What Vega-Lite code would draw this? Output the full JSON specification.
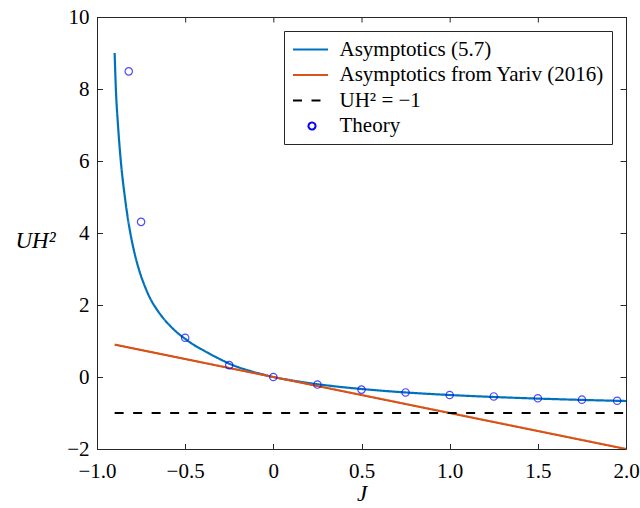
{
  "$schema": "https://vega.github.io/schema/vega-lite/v6.json",
  "width": 529,
  "height": 432,
  "autosize": "none",
  "padding": {"left": 97, "top": 17, "right": 14, "bottom": 59},
  "background": "white",
  "config": {
    "font": "'Liberation Serif', 'Times New Roman', serif",
    "view": {"stroke": null},
    "axis": {
      "grid": false,
      "domainColor": "#262626",
      "tickColor": "#262626",
      "domainWidth": 1,
      "tickWidth": 1,
      "tickSize": -5.5,
      "labelFlush": false
    }
  },
  "datasets": {
    "xticks": [{"t": -0.5}, {"t": 0}, {"t": 0.5}, {"t": 1}, {"t": 1.5}],
    "yticks": [{"t": 0}, {"t": 2}, {"t": 4}, {"t": 6}, {"t": 8}]
  },
  "data": {
    "values": [
      {"series": "Asymptotics (5.7)", "J": -0.9, "U": 9.0},
      {"series": "Asymptotics (5.7)", "J": -0.893, "U": 8.0},
      {"series": "Asymptotics (5.7)", "J": -0.881, "U": 7.0},
      {"series": "Asymptotics (5.7)", "J": -0.865, "U": 6.0},
      {"series": "Asymptotics (5.7)", "J": -0.842, "U": 5.0},
      {"series": "Asymptotics (5.7)", "J": -0.828, "U": 4.5},
      {"series": "Asymptotics (5.7)", "J": -0.811, "U": 4.0},
      {"series": "Asymptotics (5.7)", "J": -0.79, "U": 3.5},
      {"series": "Asymptotics (5.7)", "J": -0.763, "U": 3.0},
      {"series": "Asymptotics (5.7)", "J": -0.727, "U": 2.5},
      {"series": "Asymptotics (5.7)", "J": -0.696, "U": 2.16},
      {"series": "Asymptotics (5.7)", "J": -0.664, "U": 1.9},
      {"series": "Asymptotics (5.7)", "J": -0.638, "U": 1.72},
      {"series": "Asymptotics (5.7)", "J": -0.61, "U": 1.55},
      {"series": "Asymptotics (5.7)", "J": -0.585, "U": 1.42},
      {"series": "Asymptotics (5.7)", "J": -0.549, "U": 1.25},
      {"series": "Asymptotics (5.7)", "J": -0.5, "U": 1.06},
      {"series": "Asymptotics (5.7)", "J": -0.45, "U": 0.89},
      {"series": "Asymptotics (5.7)", "J": -0.4, "U": 0.75},
      {"series": "Asymptotics (5.7)", "J": -0.35, "U": 0.615},
      {"series": "Asymptotics (5.7)", "J": -0.3, "U": 0.49},
      {"series": "Asymptotics (5.7)", "J": -0.25, "U": 0.37},
      {"series": "Asymptotics (5.7)", "J": -0.2, "U": 0.275},
      {"series": "Asymptotics (5.7)", "J": -0.132, "U": 0.17},
      {"series": "Asymptotics (5.7)", "J": -0.07, "U": 0.085},
      {"series": "Asymptotics (5.7)", "J": 0, "U": 0},
      {"series": "Asymptotics (5.7)", "J": 0.1, "U": -0.09},
      {"series": "Asymptotics (5.7)", "J": 0.2, "U": -0.167},
      {"series": "Asymptotics (5.7)", "J": 0.3, "U": -0.231},
      {"series": "Asymptotics (5.7)", "J": 0.4, "U": -0.286},
      {"series": "Asymptotics (5.7)", "J": 0.5, "U": -0.333},
      {"series": "Asymptotics (5.7)", "J": 0.6, "U": -0.375},
      {"series": "Asymptotics (5.7)", "J": 0.75, "U": -0.429},
      {"series": "Asymptotics (5.7)", "J": 0.9, "U": -0.474},
      {"series": "Asymptotics (5.7)", "J": 1.0, "U": -0.5},
      {"series": "Asymptotics (5.7)", "J": 1.2, "U": -0.545},
      {"series": "Asymptotics (5.7)", "J": 1.4, "U": -0.583},
      {"series": "Asymptotics (5.7)", "J": 1.6, "U": -0.615},
      {"series": "Asymptotics (5.7)", "J": 1.8, "U": -0.643},
      {"series": "Asymptotics (5.7)", "J": 2.0, "U": -0.667},
      {"series": "Asymptotics from Yariv (2016)", "J": -0.9, "U": 0.9},
      {"series": "Asymptotics from Yariv (2016)", "J": 2.0, "U": -2.0},
      {"series": "UH² = −1", "J": -0.9, "U": -1},
      {"series": "UH² = −1", "J": 2.0, "U": -1},
      {"series": "Theory", "J": -0.82, "U": 8.49},
      {"series": "Theory", "J": -0.75, "U": 4.31},
      {"series": "Theory", "J": -0.5, "U": 1.09},
      {"series": "Theory", "J": -0.25, "U": 0.33},
      {"series": "Theory", "J": 0, "U": 0},
      {"series": "Theory", "J": 0.25, "U": -0.21},
      {"series": "Theory", "J": 0.5, "U": -0.35},
      {"series": "Theory", "J": 0.75, "U": -0.43},
      {"series": "Theory", "J": 1.0, "U": -0.5},
      {"series": "Theory", "J": 1.25, "U": -0.54},
      {"series": "Theory", "J": 1.5, "U": -0.59},
      {"series": "Theory", "J": 1.75, "U": -0.63},
      {"series": "Theory", "J": 1.95, "U": -0.66}
    ]
  },
  "layer": [
    {
      "transform": [{"filter": "datum.series !== 'Theory'"}],
      "mark": {"type": "line", "strokeWidth": 2.2, "interpolate": "monotone", "clip": true},
      "encoding": {
        "x": {
          "field": "J", "type": "quantitative",
          "scale": {"domain": [-1, 2], "nice": false, "zero": false},
          "axis": {
            "orient": "bottom",
            "values": [-1, -0.5, 0, 0.5, 1, 1.5, 2],
            "labelExpr": "datum.value === 0 ? '0' : format(datum.value, '.1f')",
            "labelFont": "'Liberation Serif', 'Times New Roman', serif",
            "labelFontSize": 21,
            "labelColor": "black",
            "labelFlush": false,
            "labelPadding": 16.5,
            "title": "J",
            "titleFont": "'Liberation Serif', 'Times New Roman', serif",
            "titleFontSize": 23,
            "titleFontStyle": "italic",
            "titleFontWeight": "normal",
            "titleColor": "black",
            "titleY": 44,
            "titleBaseline": "middle"
          }
        },
        "y": {
          "field": "U", "type": "quantitative",
          "scale": {"domain": [-2, 10], "nice": false, "zero": false},
          "axis": {
            "orient": "left",
            "values": [-2, 0, 2, 4, 6, 8, 10],
            "format": "d",
            "labelFont": "'Liberation Serif', 'Times New Roman', serif",
            "labelFontSize": 21,
            "labelColor": "black",
            "labelFlush": false,
            "labelPadding": 13.5,
            "title": "UH²",
            "titleFont": "'Liberation Serif', 'Times New Roman', serif",
            "titleFontSize": 23,
            "titleFontStyle": "italic",
            "titleFontWeight": "normal",
            "titleColor": "black",
            "titleAngle": 0,
            "titleX": -62,
            "titleY": 223,
            "titleAlign": "center",
            "titleBaseline": "middle"
          }
        },
        "color": {
          "field": "series", "type": "nominal",
          "scale": {
            "domain": ["Asymptotics (5.7)", "Asymptotics from Yariv (2016)", "UH² = −1", "Theory"],
            "range": ["#0072BD", "#D95319", "#000000", "#0000FF"]
          },
          "legend": {
            "title": null,
            "orient": "top-right",
            "offset": 14,
            "padding": 8,
            "rowPadding": 3.5,
            "labelFont": "'Liberation Serif', 'Times New Roman', serif",
            "labelFontSize": 21,
            "labelColor": "black",
            "labelLimit": 500,
            "labelOffset": 17,
            "symbolOffset": 9.5,
            "symbolSize": 256,
            "symbolStrokeWidth": 2,
            "fillColor": "white",
            "strokeColor": "#262626",
            "encode": {
              "symbols": {"update": {"size": {"signal": "datum.value === 'Theory' ? 49 : 256"}}}
            }
          }
        },
        "strokeDash": {
          "field": "series", "type": "nominal",
          "scale": {
            "domain": ["Asymptotics (5.7)", "Asymptotics from Yariv (2016)", "UH² = −1", "Theory"],
            "range": [[1, 0], [1, 0], [9, 9.5], [1, 0]]
          },
          "legend": {"title": null}
        }
      }
    },
    {
      "transform": [{"filter": "datum.series === 'Theory'"}],
      "mark": {"type": "point", "filled": false, "size": 55, "strokeWidth": 1.2},
      "encoding": {
        "x": {"field": "J", "type": "quantitative"},
        "y": {"field": "U", "type": "quantitative"},
        "color": {"field": "series", "type": "nominal"},
        "shape": {
          "field": "series", "type": "nominal",
          "scale": {
            "domain": ["Asymptotics (5.7)", "Asymptotics from Yariv (2016)", "UH² = −1", "Theory"],
            "range": ["M-2.375,0H2", "M-2.375,0H2", "M-2.375,0H2", "circle"]
          },
          "legend": {"title": null}
        }
      }
    },
    {
      "mark": {"type": "rule", "color": "#262626", "strokeWidth": 1, "yOffset": 0.5},
      "encoding": {"y": {"datum": 10, "type": "quantitative"}}
    },
    {
      "mark": {"type": "rule", "color": "#262626", "strokeWidth": 1, "xOffset": 0.5},
      "encoding": {"x": {"datum": 2, "type": "quantitative"}}
    },
    {
      "data": {"name": "xticks"},
      "mark": {"type": "rule", "color": "#262626", "strokeWidth": 1, "xOffset": 0.5},
      "encoding": {
        "x": {"field": "t", "type": "quantitative"},
        "y": {"datum": 10, "type": "quantitative"},
        "y2": {"datum": 9.847}
      }
    },
    {
      "data": {"name": "yticks"},
      "mark": {"type": "rule", "color": "#262626", "strokeWidth": 1, "yOffset": 0.5},
      "encoding": {
        "y": {"field": "t", "type": "quantitative"},
        "x": {"datum": 2, "type": "quantitative"},
        "x2": {"datum": 1.969}
      }
    }
  ]
}
